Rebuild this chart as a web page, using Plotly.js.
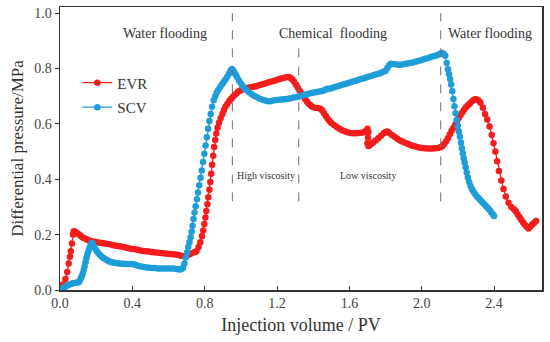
<!DOCTYPE html>
<html>
<head>
<meta charset="utf-8">
<script src="https://cdn.plot.ly/plotly-3.0.1.min.js"></script>
<style>html,body{margin:0;padding:0;background:#fff;}#chart{width:550px;height:342px;}</style>
</head>
<body>
<div id="chart"></div>
<script>
// EVR (red) series
const evrX = [0.0,0.016,0.03,0.04,0.048,0.055,0.06,0.066,0.072,0.076,
0.085,0.095,0.105,0.115,0.125,0.135,0.145,0.155,0.165,0.175,0.19,0.205,0.22,0.235,0.25,0.265,0.28,0.295,0.31,0.325,0.34,0.355,0.37,0.385,0.40,0.415,0.43,0.445,0.46,0.475,0.49,0.505,0.52,0.535,0.55,0.565,0.58,0.595,0.61,0.625,0.64,0.655,0.67,0.685,0.70,0.715,0.73,0.745,0.755,
0.766,0.776,0.785,0.792,0.798,0.804,0.809,0.815,0.82,0.826,0.831,0.836,0.841,0.847,0.852,0.858,0.864,0.871,0.879,0.888,0.898,0.906,0.915,0.925,0.935,0.945,0.955,0.965,0.975,0.985,0.995,1.005,1.015,1.025,1.04,1.055,1.07,1.085,1.10,1.115,1.13,1.145,1.16,1.175,1.19,1.205,1.22,1.235,1.25,1.265,1.275,1.285,1.295,1.305,1.315,1.325,1.335,1.345,1.355,1.365,1.375,1.385,1.395,1.41,1.425,1.44,1.45,1.46,1.47,1.48,1.49,1.50,1.515,1.53,1.545,1.56,1.575,1.59,1.605,1.62,1.635,1.65,1.665,1.68,1.69,1.70,1.705,1.703,1.70,1.705,1.715,1.73,1.745,1.76,1.775,1.79,1.80,1.81,1.82,1.835,1.85,1.865,1.88,1.895,1.91,1.925,1.94,1.955,1.97,1.985,2.0,2.015,2.03,2.045,2.06,2.075,2.09,2.105,2.115,2.125,2.135,2.145,
2.155,2.165,2.175,2.185,2.195,2.205,2.215,2.225,2.235,2.245,2.255,2.265,2.275,2.285,2.295,2.305,2.315,2.325,2.338,2.35,2.362,2.375,2.387,2.397,2.407,2.417,2.427,2.44,2.452,2.465,2.48,2.495,2.51,2.52,2.53,2.54,2.55,2.56,2.57,2.58,2.59,2.60,2.61,2.62,2.632];
const evrY = [0.0,0.02,0.04,0.065,0.096,0.12,0.14,0.168,0.2,0.212,
0.21,0.205,0.2,0.195,0.19,0.187,0.184,0.181,0.178,0.176,0.174,0.172,0.171,0.17,0.168,0.166,0.164,0.162,0.16,0.158,0.157,0.155,0.152,0.15,0.148,0.147,0.145,0.143,0.141,0.14,0.139,0.137,0.136,0.135,0.134,0.133,0.132,0.131,0.13,0.129,0.128,0.126,0.124,0.122,0.124,0.128,0.133,0.137,0.14,
0.155,0.172,0.195,0.215,0.238,0.262,0.285,0.31,0.335,0.362,0.39,0.42,0.452,0.485,0.516,0.542,0.565,0.586,0.604,0.62,0.636,0.65,0.662,0.672,0.682,0.69,0.697,0.704,0.71,0.716,0.72,0.723,0.726,0.728,0.73,0.732,0.734,0.736,0.739,0.742,0.745,0.748,0.751,0.754,0.757,0.76,0.763,0.766,0.768,0.769,0.766,0.76,0.752,0.741,0.73,0.72,0.71,0.7,0.69,0.681,0.673,0.667,0.662,0.658,0.657,0.655,0.648,0.638,0.628,0.618,0.61,0.603,0.596,0.589,0.582,0.577,0.573,0.57,0.567,0.566,0.566,0.567,0.568,0.57,0.574,0.582,0.57,0.55,0.53,0.52,0.524,0.532,0.54,0.548,0.557,0.566,0.571,0.572,0.567,0.56,0.553,0.546,0.54,0.535,0.531,0.527,0.523,0.52,0.517,0.515,0.513,0.512,0.511,0.511,0.511,0.512,0.513,0.516,0.52,0.528,0.537,0.548,
0.562,0.575,0.585,0.597,0.61,0.621,0.632,0.642,0.652,0.66,0.667,0.673,0.68,0.685,0.689,0.688,0.684,0.676,0.658,0.636,0.616,0.59,0.56,0.53,0.5,0.465,0.43,0.395,0.365,0.338,0.315,0.3,0.292,0.284,0.274,0.264,0.254,0.245,0.236,0.228,0.222,0.228,0.236,0.242,0.249];

// SCV (blue) series
const scvX = [0.0,0.01,0.02,0.03,0.04,0.05,0.06,0.07,0.08,0.09,0.1,0.108,0.115,0.12,0.126,0.131,0.136,0.141,0.146,0.151,0.157,0.163,0.169,0.175,0.18,0.188,0.196,0.204,0.212,0.22,0.23,0.24,0.25,0.26,0.27,0.28,0.29,0.30,0.315,0.33,0.345,0.36,0.375,0.39,0.405,0.42,0.435,0.45,0.465,0.48,0.495,0.51,0.525,0.54,0.555,0.57,0.585,0.60,0.615,0.63,0.645,0.66,0.67,0.68,0.688,0.695,0.702,0.709,0.716,0.722,0.728,0.733,0.738,0.744,0.75,0.757,0.763,0.77,0.777,0.784,0.791,0.798,0.805,0.812,0.819,0.826,0.833,0.841,0.85,0.858,0.866,0.875,0.885,0.895,0.905,0.915,0.925,0.935,0.943,0.951,0.958,0.965,0.972,0.98,0.99,1.0,1.01,1.02,1.03,1.045,1.06,1.075,1.09,1.105,1.12,1.135,1.15,1.165,1.18,1.195,1.21,1.225,1.24,1.255,1.27,1.285,1.30,1.315,1.33,1.345,1.36,1.375,1.39,1.405,1.42,1.435,1.45,1.465,1.475,1.485,1.5,1.515,1.53,1.545,1.56,1.575,1.59,1.605,1.62,1.635,1.65,1.665,1.68,1.695,1.71,1.725,1.74,1.755,1.77,1.785,1.80,1.81,1.82,1.83,1.845,1.86,1.875,1.89,1.905,1.92,1.935,1.95,1.965,1.98,1.995,2.01,2.025,2.04,2.055,2.07,2.085,2.1,2.11,2.12,2.13,2.138,2.145,2.151,2.157,2.163,2.169,2.175,2.181,2.187,2.193,2.199,2.205,2.211,2.217,2.222,2.227,2.232,2.237,2.243,2.249,2.255,2.262,2.27,2.278,2.287,2.296,2.305,2.315,2.325,2.335,2.345,2.355,2.365,2.375,2.385,2.395,2.40];
const scvY = [0.0,0.004,0.008,0.012,0.016,0.019,0.022,0.024,0.025,0.026,0.027,0.032,0.042,0.05,0.06,0.072,0.085,0.1,0.115,0.128,0.14,0.152,0.162,0.17,0.168,0.158,0.148,0.14,0.133,0.127,0.121,0.116,0.112,0.108,0.104,0.101,0.099,0.098,0.097,0.096,0.095,0.095,0.094,0.094,0.093,0.09,0.087,0.085,0.083,0.081,0.08,0.079,0.079,0.078,0.078,0.078,0.078,0.078,0.078,0.078,0.076,0.074,0.075,0.08,0.096,0.117,0.135,0.155,0.172,0.19,0.21,0.232,0.256,0.28,0.302,0.328,0.352,0.378,0.405,0.432,0.462,0.492,0.522,0.552,0.582,0.61,0.636,0.662,0.685,0.7,0.712,0.722,0.732,0.742,0.751,0.76,0.77,0.782,0.792,0.798,0.793,0.785,0.776,0.767,0.756,0.746,0.737,0.729,0.722,0.714,0.707,0.701,0.696,0.691,0.687,0.684,0.682,0.682,0.684,0.686,0.687,0.688,0.689,0.69,0.692,0.694,0.696,0.698,0.7,0.703,0.706,0.709,0.711,0.713,0.715,0.717,0.719,0.722,0.726,0.727,0.729,0.732,0.735,0.738,0.741,0.744,0.747,0.75,0.753,0.756,0.759,0.762,0.765,0.768,0.771,0.774,0.777,0.78,0.783,0.787,0.792,0.802,0.812,0.817,0.816,0.814,0.813,0.814,0.816,0.818,0.82,0.822,0.824,0.827,0.83,0.833,0.836,0.839,0.842,0.845,0.848,0.852,0.856,0.853,0.846,0.82,0.797,0.78,0.762,0.742,0.718,0.69,0.664,0.638,0.614,0.592,0.572,0.553,0.532,0.512,0.494,0.476,0.46,0.443,0.424,0.406,0.39,0.376,0.364,0.354,0.346,0.338,0.331,0.324,0.317,0.31,0.303,0.296,0.289,0.28,0.272,0.267];

const seriesNames = ["EVR", "SCV"];
const xTickVals = [0, 0.4, 0.8, 1.2, 1.6, 2.0, 2.4];
const xTickText = ["0.0", "0.4", "0.8", "1.2", "1.6", "2.0", "2.4"];
const yTickVals = [0, 0.2, 0.4, 0.6, 0.8, 1.0];
const yTickText = ["0.0", "0.2", "0.4", "0.6", "0.8", "1.0"];

// Stage boundaries (PV) and their vertical extents (MPa)
const boundaryX = [0.953, 1.32, 2.105];
const boundaryTop = [1.0, 0.885, 1.0];
const boundaryBottom = [0.32, 0.32, 0.32];

const stageLabels = ["Water flooding", "Chemical  flooding", "Water flooding"];
const stageLabelX = [0.58, 1.51, 2.38];
const stageLabelY = 0.925;
const subLabels = ["High viscosity", "Low viscosity"];
const subLabelX = [0.965, 1.705];
const subLabelY = 0.413;

const FONT = "Liberation Serif, Times New Roman, serif";
const RED = "#f41c1c";
const BLUE = "#1e9dd8";

const traces = [
  {x: evrX, y: evrY, name: seriesNames[0], legendgroup: "a", type: "scatter", mode: "lines+markers",
   line: {color: RED, width: 1.3}, marker: {color: RED, size: 6.5}},
  {x: scvX, y: scvY, name: seriesNames[1], legendgroup: "b", type: "scatter", mode: "lines+markers",
   line: {color: BLUE, width: 1.3}, marker: {color: BLUE, size: 6.5}}
];

const shapes = boundaryX.map((bx, i) => ({
  type: "line", xref: "x", yref: "y", x0: bx, x1: bx, y0: boundaryBottom[i], y1: boundaryTop[i],
  line: {color: "#707070", width: 1, dash: "dash"}
}));

const annotations = stageLabels.map((t, i) => ({
  x: stageLabelX[i], y: stageLabelY, xref: "x", yref: "y", text: t, showarrow: false,
  font: {family: FONT, size: 14, color: "#333"}
}));
annotations.push({x: subLabelX[0], y: subLabelY, xref: "x", yref: "y", text: subLabels[0], showarrow: false,
  xanchor: "left", font: {family: FONT, size: 10, color: "#333"}});
annotations.push({x: subLabelX[1], y: subLabelY, xref: "x", yref: "y", text: subLabels[1], showarrow: false,
  xanchor: "center", font: {family: FONT, size: 10, color: "#333"}});

const layout = {
  width: 550, height: 342,
  margin: {l: 60, r: 8, t: 7, b: 52},
  paper_bgcolor: "#fff", plot_bgcolor: "#fff",
  font: {family: FONT, color: "#333"},
  showlegend: true,
  legend: {x: 0.036, y: 0.79, xanchor: "left", yanchor: "top", bgcolor: "rgba(0,0,0,0)",
    traceorder: "grouped", tracegroupgap: 2, font: {family: FONT, size: 15, color: "#333"}},
  xaxis: {range: [0, 2.665], tickvals: xTickVals, ticktext: xTickText, ticks: "inside", ticklen: 4,
    tickcolor: "#333", showline: true, linecolor: "#333", linewidth: 1.5, mirror: true,
    showgrid: false, zeroline: false, tickfont: {family: FONT, size: 14, color: "#444"},
    title: {text: "Injection volume / PV", font: {family: FONT, size: 18, color: "#333"}, standoff: 8}},
  yaxis: {range: [0, 1.022], tickvals: yTickVals, ticktext: yTickText, ticks: "outside", ticklen: 4,
    tickcolor: "#333", showline: true, linecolor: "#333", linewidth: 1.5, mirror: true,
    showgrid: false, zeroline: false, tickfont: {family: FONT, size: 14, color: "#444"},
    title: {text: "Differential pressure/MPa", font: {family: FONT, size: 17, color: "#333"}, standoff: 6}},
  shapes: shapes,
  annotations: annotations
};

Plotly.newPlot("chart", traces, layout, {displayModeBar: false, staticPlot: true});
</script>
</body>
</html>
